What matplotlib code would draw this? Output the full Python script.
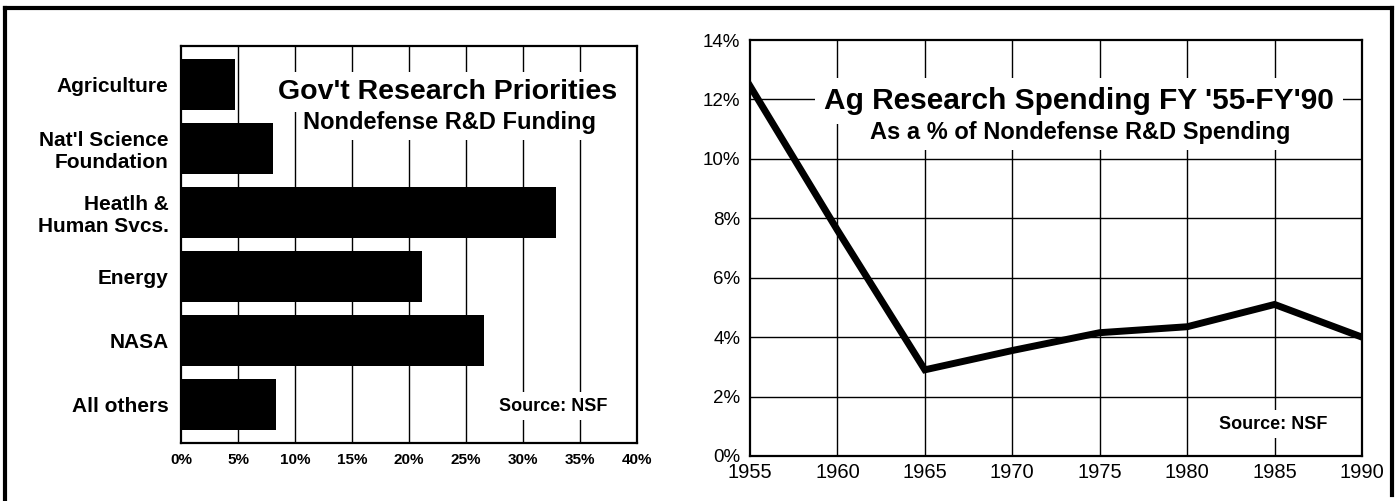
import numpy as np
import matplotlib
matplotlib.use("Agg")
import matplotlib.pyplot as plt
from matplotlib.lines import Line2D

plt.rcParams['font.family'] = ['Liberation Sans', 'DejaVu Sans']

# left panel: share of nondefense R&D funding by agency (%)
agencies = ["Agriculture", "Nat'l Science\nFoundation", "Heatlh &\nHuman Svcs.",
            "Energy", "NASA", "All others"]
funding_pct = [4.7, 8.1, 32.9, 21.1, 26.6, 8.3]
pct_ticks = [0, 5, 10, 15, 20, 25, 30, 35, 40]

# right panel: ag research as % of nondefense R&D spending
years = [1955, 1960, 1965, 1970, 1975, 1980, 1985, 1990]
ag_share = [12.45, 7.6, 2.9, 3.55, 4.15, 4.35, 5.1, 4.0]
year_ticks = [1955, 1960, 1965, 1970, 1975, 1980, 1985, 1990]
share_ticks = [0, 2, 4, 6, 8, 10, 12, 14]

W, H = 1400, 501
fig = plt.figure(figsize=(14, 5.01), dpi=100)
fig.patch.set_facecolor('white')

def px_axes(x0, y0, x1, y1):
    return fig.add_axes([x0 / W, 1 - y1 / H, (x1 - x0) / W, (y1 - y0) / H])

# ---- left chart ----
ax1 = px_axes(181, 46, 637, 443)
pos = np.arange(len(agencies))
ax1.barh(pos, funding_pct, height=0.8, color='black', zorder=2)
ax1.set_xlim(0, 40)
ax1.set_ylim(5.6, -0.6)
ax1.set_xticks(pct_ticks)
ax1.set_xticklabels([f"{t}%" for t in pct_ticks], fontsize=11, fontweight='bold')
ax1.set_yticks(pos)
ax1.set_yticklabels(agencies, fontsize=15, fontweight='bold', linespacing=1.2)
ax1.tick_params(axis='both', length=0)
ax1.tick_params(axis='x', pad=7)
ax1.tick_params(axis='y', pad=9)
for t in pct_ticks[1:-1]:
    ax1.axvline(t, color='black', lw=1.0, zorder=1)
for s in ax1.spines.values():
    s.set_linewidth(1.6)

box = dict(boxstyle='square,pad=0.25', facecolor='white', edgecolor='none')
ax1.text(0.585, 0.885, "Gov't Research Priorities", transform=ax1.transAxes,
         ha='center', va='center', fontsize=20.5, fontweight='bold', zorder=3, bbox=box)
ax1.text(0.588, 0.808, "Nondefense R&D Funding", transform=ax1.transAxes,
         ha='center', va='center', fontsize=17, fontweight='bold', zorder=3, bbox=box)
ax1.text(0.816, 0.093, "Source: NSF", transform=ax1.transAxes,
         ha='center', va='center', fontsize=13, fontweight='bold', zorder=3,
         bbox=dict(boxstyle='square,pad=0.3', facecolor='white', edgecolor='none'))

# ---- right chart ----
ax2 = px_axes(750, 40, 1362, 456)
ax2.plot(years, ag_share, color='black', lw=5, solid_joinstyle='miter', zorder=4)
ax2.set_xlim(1955, 1990)
ax2.set_ylim(0, 14)
ax2.set_xticks(year_ticks)
ax2.set_xticklabels([str(y) for y in year_ticks], fontsize=14.5)
ax2.set_yticks(share_ticks)
ax2.set_yticklabels([f"{t}%" for t in share_ticks], fontsize=13.5)
ax2.tick_params(axis='both', length=0)
ax2.tick_params(axis='x', pad=5)
ax2.tick_params(axis='y', pad=7)
for y in year_ticks[1:-1]:
    ax2.axvline(y, color='black', lw=1.0, zorder=1)
for v in share_ticks[1:-1]:
    ax2.axhline(v, color='black', lw=1.0, zorder=1)
for s in ax2.spines.values():
    s.set_linewidth(1.6)

ax2.text(0.537, 0.853, "Ag Research Spending FY '55-FY'90", transform=ax2.transAxes,
         ha='center', va='center', fontsize=21.5, fontweight='bold', zorder=3,
         bbox=dict(boxstyle='square,pad=0.3', facecolor='white', edgecolor='none'))
ax2.text(0.539, 0.778, "As a % of Nondefense R&D Spending", transform=ax2.transAxes,
         ha='center', va='center', fontsize=17, fontweight='bold', zorder=3, bbox=box)
ax2.text(0.855, 0.076, "Source: NSF", transform=ax2.transAxes,
         ha='center', va='center', fontsize=13, fontweight='bold', zorder=3,
         bbox=dict(boxstyle='square,pad=0.3', facecolor='white', edgecolor='none'))

# outer frame (open at the bottom)
fx = lambda x: x / W
fy = lambda y: 1 - y / H
fig.add_artist(Line2D([fx(5), fx(1392)], [fy(8), fy(8)], color='black', lw=3))
fig.add_artist(Line2D([fx(5), fx(5)], [fy(8), fy(501)], color='black', lw=3))
fig.add_artist(Line2D([fx(1392), fx(1392)], [fy(8), fy(495)], color='black', lw=3))

fig.savefig("out.png", dpi=100, facecolor='white')
